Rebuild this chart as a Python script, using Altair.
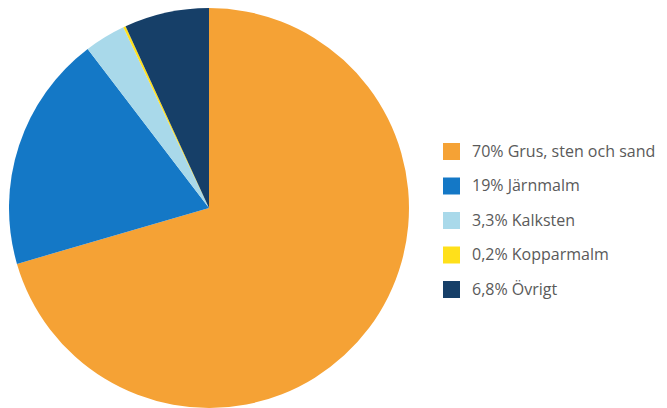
import altair as alt
import pandas as pd

labels = ["70% Grus, sten och sand", "19% Järnmalm", "3,3% Kalksten", "0,2% Kopparmalm", "6,8% Övrigt"]
values = [70, 19, 3.3, 0.2, 6.8]
colors = ["#F5A235", "#1478C6", "#A9D9EA", "#FFE01A", "#163F68"]

df = pd.DataFrame({"label": labels, "value": values, "order": list(range(len(labels)))})

chart = alt.Chart(df).mark_arc(radius=200, stroke=None).encode(
    theta=alt.Theta("value:Q", stack=True),
    order=alt.Order("order:Q"),
    x=alt.value(209),
    y=alt.value(208),
    color=alt.Color(
        "label:N",
        scale=alt.Scale(domain=labels, range=colors),
        sort=labels,
        legend=alt.Legend(
            title=None,
            orient="none",
            legendX=443,
            legendY=143,
            symbolType="square",
            symbolSize=289,
            symbolStrokeWidth=0,
            labelFontSize=16,
            labelFont="Open Sans",
            labelColor="#5a5a5a",
            labelOffset=12,
            rowPadding=17.5,
            labelLimit=300,
            padding=0,
        ),
    ),
).properties(width=667, height=408, padding=0, autosize="none").configure_view(stroke=None)

chart.save("out.html", embed_options={"renderer": "svg", "actions": False})
